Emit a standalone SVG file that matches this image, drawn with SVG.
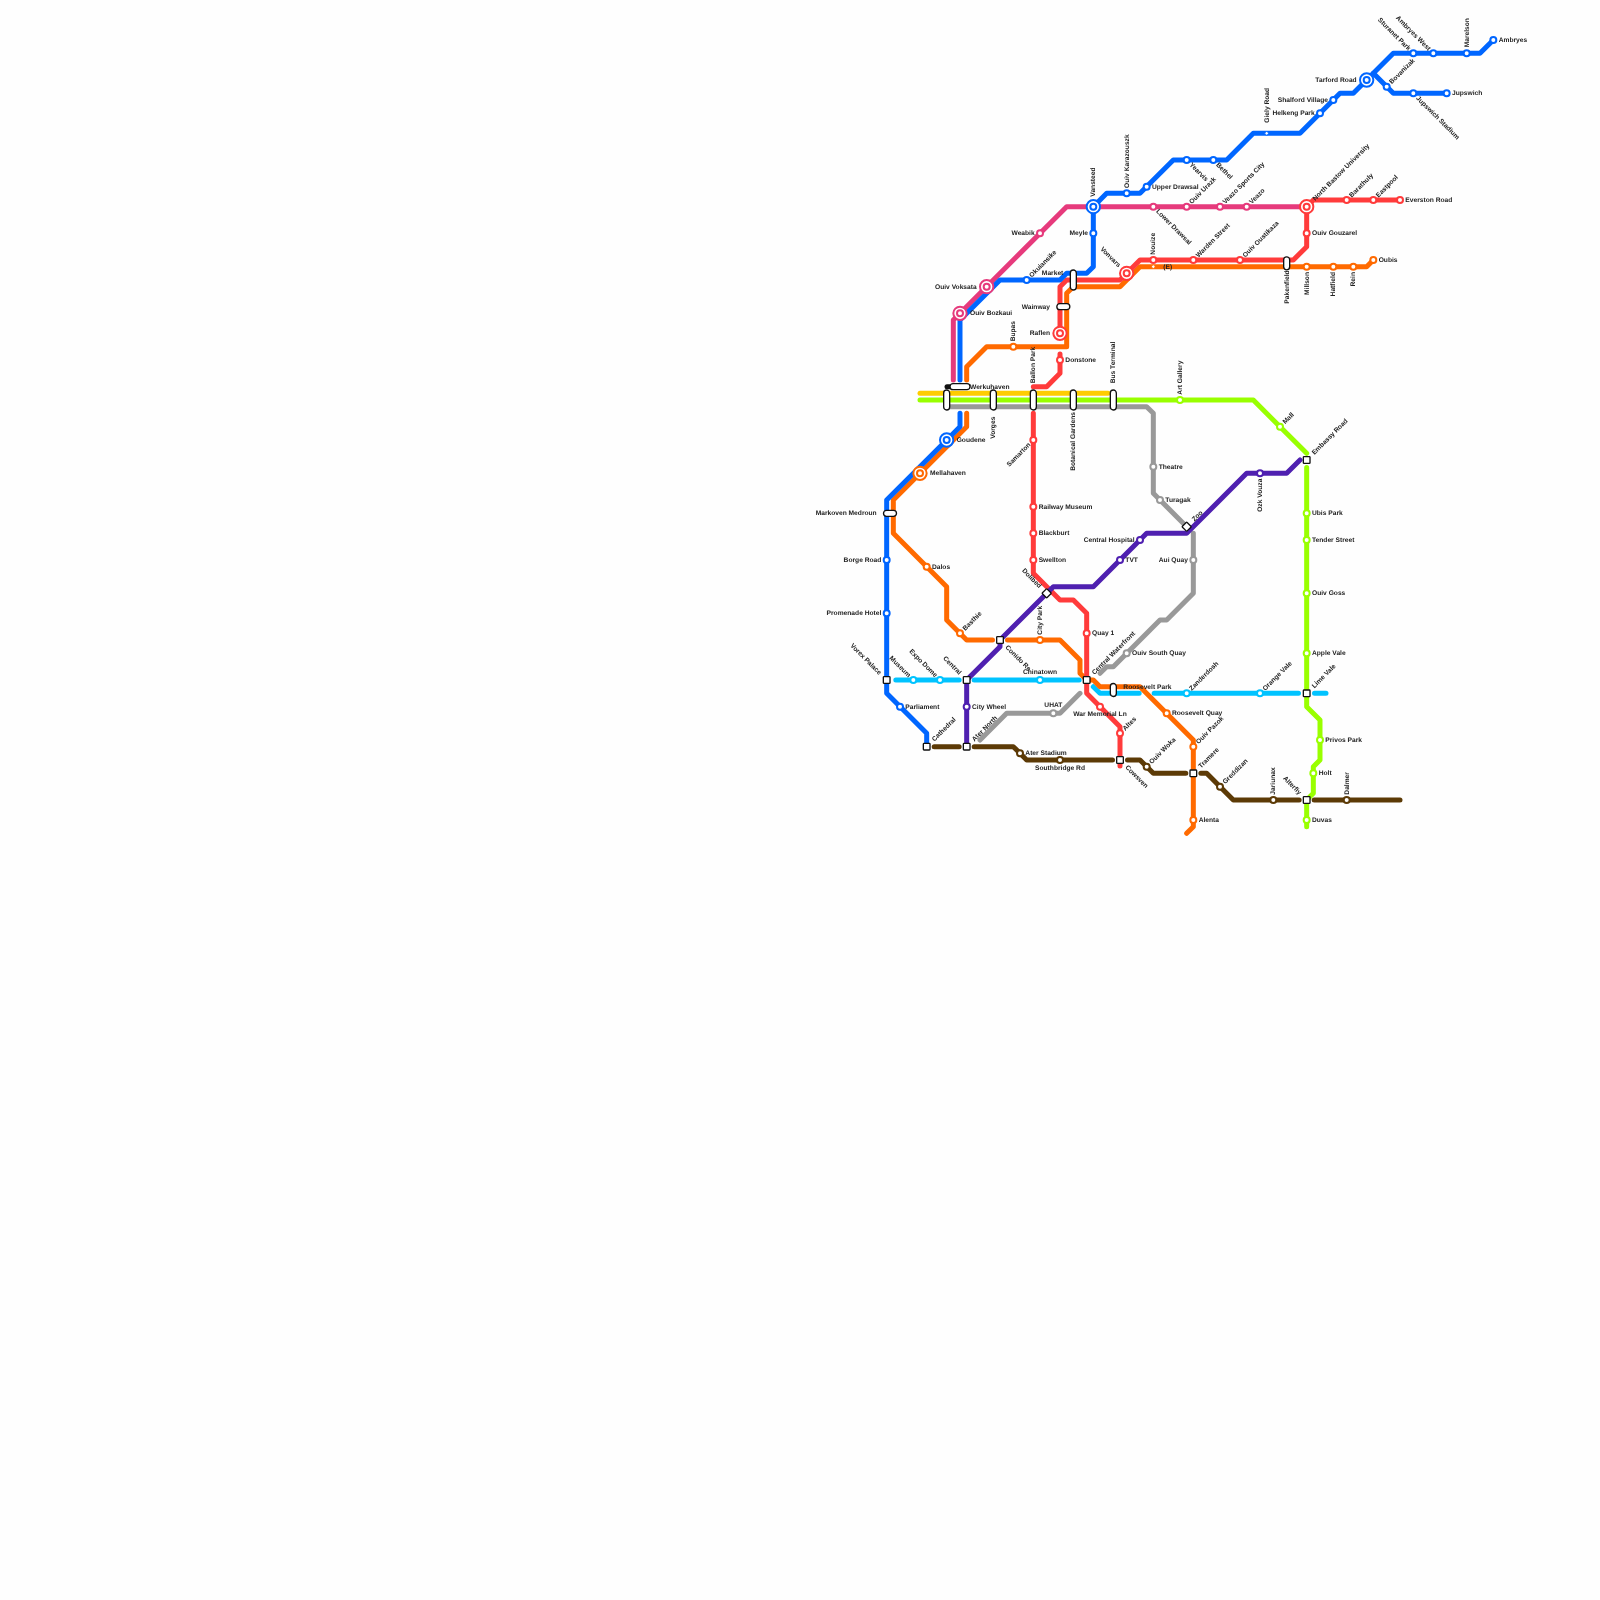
<svg xmlns="http://www.w3.org/2000/svg" width="1600" height="1600" viewBox="0 0 1600 1600">
<style>
text{font:bold 6.67px "Liberation Sans",Arial,sans-serif;fill:#222;text-rendering:geometricPrecision}
#labels{opacity:.999}
.e{text-anchor:end}.m{text-anchor:middle}
#lines path{fill:none;stroke-width:5;stroke-linecap:round;stroke-linejoin:round}
circle{fill:#fff;stroke-width:2}
.ib{fill:#fff;stroke:#111;stroke-width:1.33}
.B{stroke:#0066ff}.P{stroke:#e63a7c}.R{stroke:#ff3b3b}.O{stroke:#ff6a00}.C{stroke:#00c3ff}.L{stroke:#99ff00}.Y{stroke:#ffcc00}.G{stroke:#999999}.U{stroke:#4f20b0}.W{stroke:#5c3a06}
</style>
<rect width="1600" height="1600" fill="#fefefe"/>
<g id="lines">
<path class="Y" d="M920 393.33H1108"/>
<path class="L" d="M920 400H1253.33L1306.67 453.33"/>
<path class="L" d="M1306.67 467.5V706.67L1320 720V760L1313.33 766.67V793.33L1306.67 800V826.67"/>
<path class="G" d="M946.67 406.67H1146.67L1153.33 413.33V493.33L1186.67 526.67"/>
<path class="G" d="M1193.33 533.33V593.33L1166.67 620H1160L1113.33 666.67H1106.67L1100 673.33"/>
<path class="G" d="M1080 693.33L1060 713.33H1006.67L980 740"/>
<path class="C" d="M895.83 680H959.17M974.17 680H1079.17M1093.33 686.67L1100 693.33H1139.17M1154.17 693.33H1298.5M1314.5 693.33H1326"/>
<path class="W" d="M934.17 746.67H959.17M974.17 746.67H1013.33L1026.67 760H1112.5M1127.5 760H1140L1153.33 773.33H1185.83M1200.83 773.33H1206.67L1233.33 800H1299.17M1314.17 800H1400"/>
<path class="O" d="M966.67 380V366.67L986.67 346.67H1066.67V293.33L1073.33 286.67H1120L1140 266.67H1366.67L1373.33 260"/>
<path class="O" d="M966.67 413.33V426.67L893.33 500V533.33L946.67 586.67V620L966.67 640H992.5M1007.5 640H1060L1080 660V673.33L1086.67 680H1093.33L1100 686.67H1140L1193.33 740V826.67L1186.67 833.33"/>
<path class="R" d="M1400 200H1313.33L1306.67 206.67V246.67L1293.33 260H1140L1120 280H1066.67L1060 286.67V333.33"/>
<path class="R" d="M1060 354V373.33L1046.67 386.67H1033.33"/>
<path class="R" d="M1033.33 413.33V573.33L1060 600H1073.33L1086.67 613.33V693.33L1120 726.67V766"/>
<path class="P" d="M953.33 380V320L1066.67 206.67H1306.67"/>
<path class="B" d="M1493.33 40L1480 53.33H1393.33L1353.33 93.33H1340L1300 133.33H1253.33L1226.67 160H1173.33L1140 193.33H1106.67L1093.33 206.67V266.67L1086.67 273.33H1066.67L1060 280H1000L960 320V380"/>
<path class="B" d="M960 413.33V426.67L886.67 500V693.33L926.67 733.33V746"/>
<path class="B" d="M1373.33 73.33L1393.33 93.33H1446.67"/>
<path class="U" d="M1300 460L1286.67 473.33H1246.67L1186.67 533.33H1146.67L1093.33 586.67H1053.33L1000 640V646.67L966.67 680V746.67"/>
</g>
<g id="labels">
<g id="n-ambryes" transform="translate(1493.33 40)"><circle class="B" r="3"/><text x="5.33" y="2">Ambryes</text></g>
<g id="n-marelson" transform="translate(1466.67 53.33)"><circle class="B" r="3"/><text transform="rotate(-90)" x="6" y="2">Marelson</text></g>
<g id="n-ambryes-west" transform="translate(1433.33 53.33)"><circle class="B" r="3"/><text class="e" transform="rotate(45)" x="-5.33" y="2">Ambryes West</text></g>
<g id="n-sturanet" transform="translate(1413.33 53.33)"><circle class="B" r="3"/><text class="e" transform="rotate(45)" x="-5.33" y="2">Sturanet Park</text></g>
<g id="n-tarford" transform="translate(1366.67 80)"><circle class="B" r="6.67"/><circle class="B" r="3"/><text class="e" x="-10" y="2">Tarford Road</text></g>
<g id="n-bovanizak" transform="translate(1386.67 86.67)"><circle class="B" r="3"/><text transform="rotate(-45)" x="5.33" y="2">Bovanizak</text></g>
<g id="n-jupswich" transform="translate(1446.67 93.33)"><circle class="B" r="3"/><text x="5.33" y="2">Jupswich</text></g>
<g id="n-jupswich-stadium" transform="translate(1413.33 93.33)"><circle class="B" r="3"/><text transform="rotate(45)" x="5.33" y="2">Jupswich Stadium</text></g>
<g id="n-shalford" transform="translate(1333.33 100)"><circle class="B" r="3"/><text class="e" x="-5.33" y="2">Shalford Village</text></g>
<g id="n-helkeng" transform="translate(1320 113.33)"><circle class="B" r="3"/><text class="e" x="-5.33" y="2">Helkeng Park</text></g>
<g id="n-giely" transform="translate(1266.67 133.33)"><circle class="B" r="1.8" style="stroke-width:1"/><text transform="rotate(-90)" x="10.67" y="2">Giely Road</text></g>
<g id="n-bethel" transform="translate(1213.33 160)"><circle class="B" r="3"/><text transform="rotate(45)" x="5.33" y="2">Bethel</text></g>
<g id="n-yearvis" transform="translate(1186.67 160)"><circle class="B" r="3"/><text transform="rotate(45)" x="5.33" y="2">Yearvis</text></g>
<g id="n-upper-drawsal" transform="translate(1146.67 186.67)"><circle class="B" r="3"/><text x="5.33" y="2">Upper Drawsal</text></g>
<g id="n-karazouszk" transform="translate(1126.67 193.33)"><circle class="B" r="3"/><text transform="rotate(-90)" x="5.33" y="2">Ouiv Karazouszk</text></g>
<g id="n-vansteed" transform="translate(1093.33 206.67)"><circle class="B" r="6.67"/><circle class="B" r="3"/><text transform="rotate(-90)" x="10" y="2">Vansteed</text></g>
<g id="n-meyle" transform="translate(1093.33 233.33)"><circle class="B" r="3"/><text class="e" x="-5.33" y="2">Meyle</text></g>
<g id="n-okuiansike" transform="translate(1026.67 280)"><circle class="B" r="3"/><text transform="rotate(-45)" x="5.33" y="2">Okuiansike</text></g>
<g id="n-voksata" transform="translate(986.67 286.67)"><circle class="P" r="6.67"/><circle class="P" r="3"/><text class="e" x="-10" y="2">Ouiv Voksata</text></g>
<g id="n-bozkaui" transform="translate(960 313.33)"><circle class="P" r="6.67"/><circle class="P" r="3"/><text x="10" y="2">Ouiv Bozkaui</text></g>
<g id="n-weabik" transform="translate(1040 233.33)"><circle class="P" r="3"/><text class="e" x="-5.33" y="2">Weabik</text></g>
<g id="n-lower-drawsal" transform="translate(1153.33 206.67)"><circle class="P" r="3"/><text transform="rotate(45)" x="5.33" y="2">Lower Drawsal</text></g>
<g id="n-urazk" transform="translate(1186.67 206.67)"><circle class="P" r="3"/><text transform="rotate(-45)" x="5.33" y="2">Ouiv Urazk</text></g>
<g id="n-veazo-sports" transform="translate(1220 206.67)"><circle class="P" r="3"/><text transform="rotate(-45)" x="5.33" y="2">Veazo Sports City</text></g>
<g id="n-veazo" transform="translate(1246.67 206.67)"><circle class="P" r="3"/><text transform="rotate(-45)" x="5.33" y="2">Veazo</text></g>
<g id="n-north-bastow" transform="translate(1306.67 206.67)"><circle class="R" r="6.67"/><circle class="R" r="3"/><text transform="rotate(-45)" x="10" y="2">North Bastow University</text></g>
<g id="n-barathuly" transform="translate(1346.67 200)"><circle class="R" r="3"/><text transform="rotate(-45)" x="5.33" y="2">Barathuly</text></g>
<g id="n-eastpool" transform="translate(1373.33 200)"><circle class="R" r="3"/><text transform="rotate(-45)" x="5.33" y="2">Eastpool</text></g>
<g id="n-everston" transform="translate(1400 200)"><circle class="R" r="3"/><text x="5.33" y="2">Everston Road</text></g>
<g id="n-gouzarel" transform="translate(1306.67 233.33)"><circle class="R" r="3"/><text x="5.33" y="2">Ouiv Gouzarel</text></g>
<g id="n-oustikaza" transform="translate(1240 260)"><circle class="R" r="3"/><text transform="rotate(-45)" x="5.33" y="2">Ouiv Oustikaza</text></g>
<g id="n-warden" transform="translate(1193.33 260)"><circle class="R" r="3"/><text transform="rotate(-45)" x="5.33" y="2">Warden Street</text></g>
<g id="n-nouize" transform="translate(1153.33 260)"><circle class="R" r="3"/><text transform="rotate(-90)" x="5.33" y="2">Nouize</text></g>
<g id="n-nouize-e" transform="translate(1153.33 266.67)"><circle class="O" r="1.8" style="stroke-width:1"/><text x="10" y="2">(E)</text></g>
<g id="n-vonvars" transform="translate(1126.67 273.33)"><circle class="R" r="6.67"/><circle class="R" r="3"/><text class="e" transform="rotate(45)" x="-10" y="2">Vonvars</text></g>
<g id="n-raflen" transform="translate(1060 333.33)"><circle class="R" r="6.67"/><circle class="R" r="3"/><text class="e" x="-10" y="2">Raflen</text></g>
<g id="n-donstone" transform="translate(1060 360)"><circle class="R" r="3"/><text x="5.33" y="2">Donstone</text></g>
<g id="n-samarton" transform="translate(1033.33 440)"><circle class="R" r="3"/><text class="e" transform="rotate(-45)" x="-5.33" y="2">Samarton</text></g>
<g id="n-railway" transform="translate(1033.33 506.67)"><circle class="R" r="3"/><text x="5.33" y="2">Railway Museum</text></g>
<g id="n-blackburt" transform="translate(1033.33 533.33)"><circle class="R" r="3"/><text x="5.33" y="2">Blackburt</text></g>
<g id="n-swellton" transform="translate(1033.33 560)"><circle class="R" r="3"/><text x="5.33" y="2">Swellton</text></g>
<g id="n-quay1" transform="translate(1086.67 633.33)"><circle class="R" r="3"/><text x="5.33" y="2">Quay 1</text></g>
<g id="n-war-memorial" transform="translate(1100 706.67)"><circle class="R" r="3"/><text class="m" y="9.5">War Memorial Ln</text></g>
<g id="n-altes" transform="translate(1120 733.33)"><circle class="R" r="3"/><text transform="rotate(-45)" x="5.33" y="2">Altes</text></g>
<g id="n-oubis" transform="translate(1373.33 260)"><circle class="O" r="3"/><text x="5.33" y="2">Oubis</text></g>
<g id="n-rein" transform="translate(1353.33 266.67)"><circle class="O" r="3"/><text class="e" transform="rotate(-90)" x="-5.33" y="2">Rein</text></g>
<g id="n-hatfield" transform="translate(1333.33 266.67)"><circle class="O" r="3"/><text class="e" transform="rotate(-90)" x="-5.33" y="2">Hatfield</text></g>
<g id="n-millson" transform="translate(1306.67 266.67)"><circle class="O" r="3"/><text class="e" transform="rotate(-90)" x="-5.33" y="2">Millson</text></g>
<g id="n-bupas" transform="translate(1013.33 346.67)"><circle class="O" r="3"/><text transform="rotate(-90)" x="5.33" y="2">Bupas</text></g>
<g id="n-goudene" transform="translate(946.67 440)"><circle class="B" r="6.67"/><circle class="B" r="3"/><text x="10" y="2">Goudene</text></g>
<g id="n-mellahaven" transform="translate(920 473.33)"><circle class="O" r="6.67"/><circle class="O" r="3"/><text x="10" y="2">Mellahaven</text></g>
<g id="n-dalos" transform="translate(926.67 566.67)"><circle class="O" r="3"/><text x="5.33" y="2">Dalos</text></g>
<g id="n-basthie" transform="translate(960 633.33)"><circle class="O" r="3"/><text transform="rotate(-45)" x="5.33" y="2">Basthie</text></g>
<g id="n-city-park" transform="translate(1040 640)"><circle class="O" r="3"/><text transform="rotate(-90)" x="5.33" y="2">City Park</text></g>
<g id="n-roosevelt-quay" transform="translate(1166.67 713.33)"><circle class="O" r="3"/><text x="5.33" y="2">Roosevelt Quay</text></g>
<g id="n-pazok" transform="translate(1193.33 746.67)"><circle class="O" r="3"/><text transform="rotate(-45)" x="5.33" y="2">Ouiv Pazok</text></g>
<g id="n-alenta" transform="translate(1193.33 820)"><circle class="O" r="3"/><text x="5.33" y="2">Alenta</text></g>
<g id="n-borge" transform="translate(886.67 560)"><circle class="B" r="3"/><text class="e" x="-5.33" y="2">Borge Road</text></g>
<g id="n-promenade" transform="translate(886.67 613.33)"><circle class="B" r="3"/><text class="e" x="-5.33" y="2">Promenade Hotel</text></g>
<g id="n-parliament" transform="translate(900 706.67)"><circle class="B" r="3"/><text x="5.33" y="2">Parliament</text></g>
<g id="n-museum" transform="translate(913.33 680)"><circle class="C" r="3"/><text class="e" transform="rotate(45)" x="-5.33" y="2">Museum</text></g>
<g id="n-expo" transform="translate(940 680)"><circle class="C" r="3"/><text class="e" transform="rotate(45)" x="-5.33" y="2">Expo Dome</text></g>
<g id="n-chinatown" transform="translate(1040 680)"><circle class="C" r="3"/><text class="m" y="-6">Chinatown</text></g>
<g id="n-zanderdosh" transform="translate(1186.67 693.33)"><circle class="C" r="3"/><text transform="rotate(-45)" x="5.33" y="2">Zanderdosh</text></g>
<g id="n-orange-vale" transform="translate(1260 693.33)"><circle class="C" r="3"/><text transform="rotate(-45)" x="5.33" y="2">Orange Vale</text></g>
<g id="n-city-wheel" transform="translate(966.67 706.67)"><circle class="U" r="3"/><text x="5.33" y="2">City Wheel</text></g>
<g id="n-tvt" transform="translate(1120 560)"><circle class="U" r="3"/><text x="5.33" y="2">TVT</text></g>
<g id="n-central-hospital" transform="translate(1140 540)"><circle class="U" r="3"/><text class="e" x="-5.33" y="2">Central Hospital</text></g>
<g id="n-ozk" transform="translate(1260 473.33)"><circle class="U" r="3"/><text class="e" transform="rotate(-90)" x="-5.33" y="2">Ozk Vouza</text></g>
<g id="n-art" transform="translate(1180 400)"><circle class="L" r="3"/><text transform="rotate(-90)" x="5.33" y="2">Art Gallery</text></g>
<g id="n-mall" transform="translate(1280 426.67)"><circle class="L" r="3"/><text transform="rotate(-45)" x="5.33" y="2">Mall</text></g>
<g id="n-ubis" transform="translate(1306.67 513.33)"><circle class="L" r="3"/><text x="5.33" y="2">Ubis Park</text></g>
<g id="n-tender" transform="translate(1306.67 540)"><circle class="L" r="3"/><text x="5.33" y="2">Tender Street</text></g>
<g id="n-goss" transform="translate(1306.67 593.33)"><circle class="L" r="3"/><text x="5.33" y="2">Ouiv Goss</text></g>
<g id="n-apple" transform="translate(1306.67 653.33)"><circle class="L" r="3"/><text x="5.33" y="2">Apple Vale</text></g>
<g id="n-privos" transform="translate(1320 740)"><circle class="L" r="3"/><text x="5.33" y="2">Privos Park</text></g>
<g id="n-holt" transform="translate(1313.33 773.33)"><circle class="L" r="3"/><text x="5.33" y="2">Holt</text></g>
<g id="n-duvas" transform="translate(1306.67 820)"><circle class="L" r="3"/><text x="5.33" y="2">Duvas</text></g>
<g id="n-theatre" transform="translate(1153.33 466.67)"><circle class="G" r="3"/><text x="5.33" y="2">Theatre</text></g>
<g id="n-turagak" transform="translate(1160 500)"><circle class="G" r="3"/><text x="5.33" y="2">Turagak</text></g>
<g id="n-aui" transform="translate(1193.33 560)"><circle class="G" r="3"/><text class="e" x="-5.33" y="2">Aui Quay</text></g>
<g id="n-south-quay" transform="translate(1126.67 653.33)"><circle class="G" r="3"/><text x="5.33" y="2">Ouiv South Quay</text></g>
<g id="n-uhat" transform="translate(1053.33 713.33)"><circle class="G" r="3"/><text class="m" y="-6">UHAT</text></g>
<g id="n-ater-stadium" transform="translate(1020 753.33)"><circle class="W" r="3"/><text x="5.33" y="2">Ater Stadium</text></g>
<g id="n-southbridge" transform="translate(1060 760)"><circle class="W" r="3"/><text class="m" y="9.5">Southbridge Rd</text></g>
<g id="n-woka" transform="translate(1146.67 766.67)"><circle class="W" r="3"/><text transform="rotate(-45)" x="5.33" y="2">Ouiv Woka</text></g>
<g id="n-greddizan" transform="translate(1220 786.67)"><circle class="W" r="3"/><text transform="rotate(-45)" x="5.33" y="2">Greddizan</text></g>
<g id="n-jariunax" transform="translate(1273.33 800)"><circle class="W" r="3"/><text transform="rotate(-90)" x="5.33" y="2">Jariunax</text></g>
<g id="n-dalmer" transform="translate(1346.67 800)"><circle class="W" r="3"/><text transform="rotate(-90)" x="5.33" y="2">Dalmer</text></g>
<g id="n-vorex" transform="translate(886.67 680)"><rect class="ib" x="-3.33" y="-3.33" width="6.67" height="6.67" rx=".7"/><text class="e" transform="rotate(45)" x="-9" y="2">Vorex Palace</text></g>
<g id="n-cathedral" transform="translate(926.67 746.67)"><rect class="ib" x="-3.33" y="-3.33" width="6.67" height="6.67" rx=".7"/><text transform="rotate(-45)" x="9" y="2">Cathedral</text></g>
<g id="n-ater-north" transform="translate(966.67 746.67)"><rect class="ib" x="-3.33" y="-3.33" width="6.67" height="6.67" rx=".7"/><text transform="rotate(-45)" x="9" y="2">Ater North</text></g>
<g id="n-central" transform="translate(966.67 680)"><rect class="ib" x="-3.33" y="-3.33" width="6.67" height="6.67" rx=".7"/><text class="e" transform="rotate(45)" x="-9" y="2">Central</text></g>
<g id="n-conido" transform="translate(1000 640)"><rect class="ib" x="-3.33" y="-3.33" width="6.67" height="6.67" rx=".7"/><text transform="rotate(45)" x="9" y="2">Conido Re</text></g>
<g id="n-dolibed" transform="translate(1046.67 593.33)"><rect class="ib" transform="rotate(45)" x="-3.33" y="-3.33" width="6.67" height="6.67" rx=".7"/><text class="e" transform="rotate(45)" x="-9" y="2">Dolibed</text></g>
<g id="n-zoo" transform="translate(1186.67 526.67)"><rect class="ib" transform="rotate(45)" x="-3.33" y="-3.33" width="6.67" height="6.67" rx=".7"/><text transform="rotate(-45)" x="9" y="2">Zoo</text></g>
<g id="n-waterfront" transform="translate(1086.67 680)"><rect class="ib" x="-3.33" y="-3.33" width="6.67" height="6.67" rx=".7"/><text transform="rotate(-45)" x="9" y="2">Central Waterfront</text></g>
<g id="n-cowsven" transform="translate(1120 760)"><rect class="ib" x="-3.33" y="-3.33" width="6.67" height="6.67" rx=".7"/><text transform="rotate(45)" x="9" y="2">Cowsven</text></g>
<g id="n-tramere" transform="translate(1193.33 773.33)"><rect class="ib" x="-3.33" y="-3.33" width="6.67" height="6.67" rx=".7"/><text transform="rotate(-45)" x="9" y="2">Tramere</text></g>
<g id="n-lime-vale" transform="translate(1306.67 693.33)"><rect class="ib" x="-3.33" y="-3.33" width="6.67" height="6.67" rx=".7"/><text transform="rotate(-45)" x="9" y="2">Lime Vale</text></g>
<g id="n-alterfiy" transform="translate(1306.67 800)"><rect class="ib" x="-3.33" y="-3.33" width="6.67" height="6.67" rx=".7"/><text class="e" transform="rotate(45)" x="-9" y="2">Alterfiy</text></g>
<g id="n-embassy" transform="translate(1306.67 460)"><rect class="ib" x="-3.33" y="-3.33" width="6.67" height="6.67" rx=".7"/><text transform="rotate(-45)" x="9" y="2">Embassy Road</text></g>
<g id="n-market" transform="translate(1073.33 280)"><rect class="ib" x="-3" y="-10" width="6" height="20" rx="3"/><text class="e" x="-10" y="-5">Market</text></g>
<g id="n-wainway" transform="translate(1063.33 306.67)"><rect class="ib" x="-6.5" y="-3" width="13" height="6" rx="3"/><text class="e" x="-13.33" y="2">Wainway</text></g>
<g id="n-werkuhaven" transform="translate(960 386.67)"><rect x="-15.5" y="-2.5" width="8" height="5" rx="2.5" fill="#111"/><rect class="ib" x="-10" y="-3" width="20" height="6" rx="3"/><text x="10" y="2">Werkuhaven</text></g>
<g id="n-interchange-west" transform="translate(946.67 400)"><rect class="ib" x="-3" y="-10" width="6" height="20" rx="3"/></g>
<g id="n-vorges" transform="translate(993.33 400)"><rect class="ib" x="-3" y="-10" width="6" height="20" rx="3"/><text class="e" transform="rotate(-90)" x="-16.67" y="2">Vorges</text></g>
<g id="n-ballon" transform="translate(1033.33 400)"><rect class="ib" x="-3" y="-10" width="6" height="20" rx="3"/><text transform="rotate(-90)" x="16.67" y="2">Ballon Park</text></g>
<g id="n-botanical" transform="translate(1073.33 400)"><rect class="ib" x="-3" y="-10" width="6" height="20" rx="3"/><text class="e" transform="rotate(-90)" x="-12" y="2">Botanical Gardens</text></g>
<g id="n-bus" transform="translate(1113.33 400)"><rect class="ib" x="-3" y="-10" width="6" height="20" rx="3"/><text transform="rotate(-90)" x="16.67" y="2">Bus Terminal</text></g>
<g id="n-pakenfield" transform="translate(1286.67 263.33)"><rect class="ib" x="-3" y="-6.5" width="6" height="13" rx="3"/><text class="e" transform="rotate(-90)" x="-7" y="2">Pakenfield</text></g>
<g id="n-markoven" transform="translate(890 513.33)"><rect class="ib" x="-6.5" y="-3" width="13" height="6" rx="3"/><text class="e" x="-13.33" y="2">Markoven Medroun</text></g>
<g id="n-roosevelt-park" transform="translate(1113.33 690)"><rect class="ib" x="-3" y="-6.5" width="6" height="13" rx="3"/><text x="10" y="-1.5">Roosevelt Park</text></g>
</g>
</svg>
